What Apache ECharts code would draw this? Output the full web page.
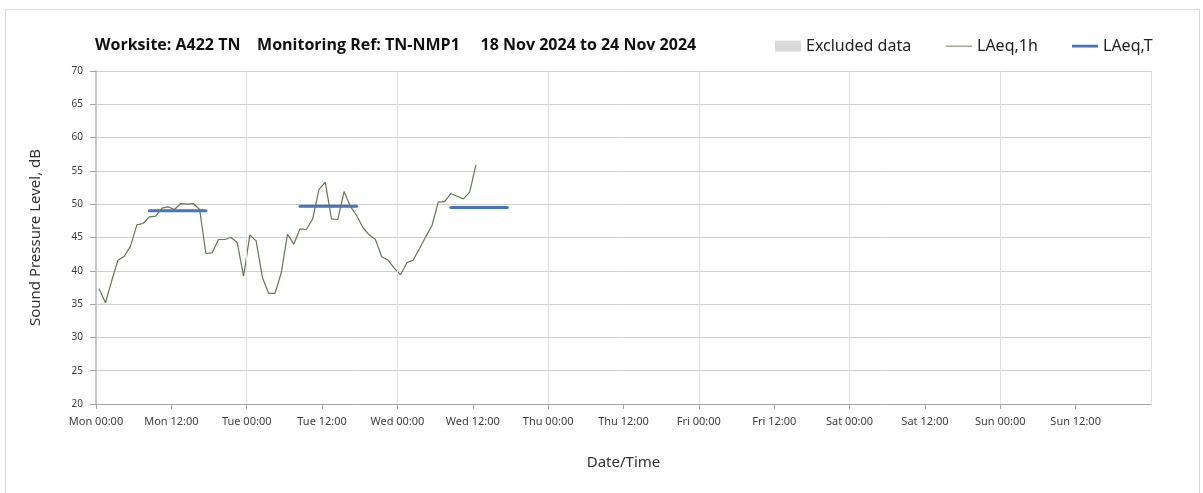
<html>
<head>
<title>Noise monitoring</title>
<script src="https://cdn.jsdelivr.net/npm/echarts@6/dist/echarts.min.js"></script>
<style>
  body { margin: 0; background: #fff; }
</style>
</head>
<body>
<div id="main" style="width:1203px;height:493px;"></div>
<script type="text/javascript">

// hourly LAeq,1h readings, first one centred on Mon 00:30
var firstHour = 0.5;
var laeq1h = [
  37.3, 35.2, 38.5, 41.6, 42.2, 43.7, 46.9, 47.1, 48.1, 48.2,
  49.4, 49.6, 49.2, 50.1, 50.0, 50.1, 49.2, 42.6, 42.7, 44.7,
  44.7, 45.0, 44.2, 39.2, 45.4, 44.5, 39.0, 36.6, 36.6, 39.7,
  45.5, 44.0, 46.3, 46.2, 47.8, 52.2, 53.3, 47.8, 47.7, 51.9,
  49.7, 48.3, 46.5, 45.4, 44.7, 42.1, 41.6, 40.4, 39.4, 41.2,
  41.6, 43.3, 45.1, 46.8, 50.3, 50.4, 51.6, 51.2, 50.8, 51.8,
  55.9
];

// LAeq,T day periods: start hour, end hour, level
var periodStart = [8.5, 32.5, 56.5];
var periodEnd   = [17.5, 41.5, 65.5];
var periodLevel = [49.0, 49.7, 49.5];

// day boundaries (hours) that get a vertical gridline
var dayLines = [24, 48, 72, 96, 120, 144, 168];

var dayNames = ['Mon', 'Tue', 'Wed', 'Thu', 'Fri', 'Sat', 'Sun', 'Mon'];
var yTicks = [20, 25, 30, 35, 40, 45, 50, 55, 60, 65, 70];

var lineData = laeq1h.map(function (v, i) { return [firstHour + i, v]; });

var blue = '#4472c4';
var green = '#5f7d4c';

var periodSeries = periodStart.map(function (s, i) {
    return {
        name: 'LAeq,T',
        type: 'line',
        symbol: 'none',
        silent: true,
        itemStyle: { color: blue },
        lineStyle: { color: blue, width: 3, cap: 'round' },
        data: [[s, periodLevel[i]], [periodEnd[i], periodLevel[i]]],
        z: 3
    };
});

var font = "'Noto Sans', 'Open Sans', sans-serif";
var legendText = { fontSize: 16, color: '#222', fontFamily: font };

var myChart = echarts.init(document.getElementById('main'));

var option = {
    animation: false,
    textStyle: { fontFamily: font },
    graphic: [{
        type: 'rect',
        shape: { x: 5.5, y: 9.5, width: 1194, height: 500 },
        style: { fill: 'none', stroke: '#d9d9d9', lineWidth: 1 },
        silent: true
    }, {
        type: 'text',
        left: 95,
        top: 31,
        style: {
            text: 'Worksite: A422 TN    Monitoring Ref: TN-NMP1     18 Nov 2024 to 24 Nov 2024',
            font: "bold 16px 'Open Sans', 'Noto Sans', sans-serif",
            fill: '#111'
        }
    }],
    legend: [{
        left: 775, top: 33, padding: 0, itemWidth: 26, itemHeight: 11,
        textStyle: legendText,
        data: [{ name: 'Excluded data', icon: 'rect' }]
    }, {
        left: 946, top: 33, padding: 0, itemWidth: 26, itemHeight: 11,
        textStyle: legendText,
        data: [{ name: 'LAeq,1h', icon: 'path://M0,5 L28,5 L28,6 L0,6 Z' }]
    }, {
        left: 1072, top: 33, padding: 0, itemWidth: 26, itemHeight: 11,
        textStyle: legendText,
        data: [{ name: 'LAeq,T', icon: 'path://M0,4 L28,4 L28,7 L0,7 Z' }]
    }],
    grid: { left: 96, right: 52, top: 71, bottom: 89, containLabel: false },
    xAxis: {
        type: 'value',
        min: 0, max: 168, interval: 12,
        name: 'Date/Time',
        nameLocation: 'middle',
        nameGap: 46,
        nameTextStyle: { fontSize: 15, color: '#333' },
        axisLine: { lineStyle: { color: '#a6a6a6', width: 1 } },
        axisTick: { show: true, length: 5, lineStyle: { color: '#a6a6a6' } },
        axisLabel: {
            fontSize: 11, color: '#404040', margin: 9,
            formatter: function (v) {
                var d = dayNames[Math.floor(v / 24)];
                return d + (v % 24 === 0 ? ' 00:00' : ' 12:00');
            },
            showMaxLabel: false
        },
        splitLine: { show: false },
        minorSplitLine: { show: false }
    },
    yAxis: {
        type: 'value',
        min: yTicks[0], max: yTicks[yTicks.length - 1], interval: 5,
        name: 'Sound Pressure Level, dB',
        nameLocation: 'middle',
        nameGap: 48,
        nameRotate: 90,
        nameTextStyle: { fontSize: 15, color: '#333' },
        axisLine: { show: true, lineStyle: { color: '#b4b4b4', width: 1.5 } },
        axisTick: { show: true, length: 6, lineStyle: { color: '#a6a6a6' } },
        axisLabel: { fontSize: 10, color: '#404040', margin: 13 },
        splitLine: { show: true, lineStyle: { color: '#d0d0d0', width: 1 } }
    },
    series: [{
        name: 'Excluded data',
        type: 'bar',
        itemStyle: { color: '#d9d9d9' },
        data: []
    }, {
        name: 'day gridlines',
        type: 'line',
        data: [],
        silent: true,
        markLine: {
            silent: true,
            symbol: 'none',
            label: { show: false },
            lineStyle: { color: '#e0e0e0', width: 1, type: 'solid' },
            data: dayLines.map(function (h) { return { xAxis: h }; })
        },
        z: 1
    }, {
        name: 'LAeq,1h',
        type: 'line',
        symbol: 'none',
        lineStyle: { color: green, width: 1.2 },
        itemStyle: { color: green },
        data: lineData,
        z: 4
    }].concat(periodSeries)
};

myChart.setOption(option);

</script>
</body>
</html>
